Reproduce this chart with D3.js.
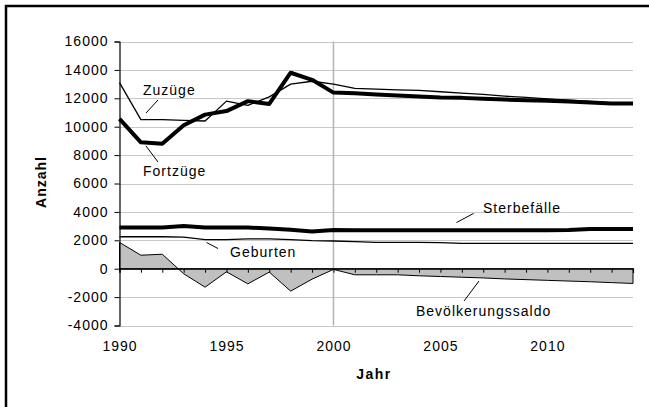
<!DOCTYPE html>
<html>
<head>
<meta charset="utf-8">
<script src="https://cdn.jsdelivr.net/npm/d3@7"></script>
<style>
  html, body { margin: 0; padding: 0; background: #fff; }
  svg { display: block; }
  text { font-family: "Liberation Sans", Arial, sans-serif; fill: #000; }
</style>
</head>
<body>
<svg id="chart" width="649" height="407"></svg>
<script>
const years = d3.range(1990, 2015);
const zuzuege = [13100, 10500, 10500, 10450, 10400, 11800, 11500, 12100, 13000, 13200, 13000, 12700, 12640, 12600, 12560, 12460, 12360, 12270, 12150, 12060, 11960, 11870, 11775, 11680, 11630];
const fortzuege = [10550, 8900, 8800, 10100, 10850, 11100, 11800, 11600, 13800, 13300, 12400, 12350, 12270, 12200, 12130, 12060, 12030, 11960, 11910, 11870, 11820, 11775, 11700, 11630, 11630];
const geburten = [2250, 2250, 2250, 2230, 2050, 2050, 2100, 2100, 2050, 1980, 1950, 1900, 1850, 1850, 1850, 1840, 1790, 1790, 1790, 1790, 1790, 1790, 1790, 1790, 1790];
const sterbefaelle = [2900, 2900, 2900, 3000, 2900, 2900, 2900, 2830, 2740, 2620, 2720, 2700, 2700, 2700, 2700, 2700, 2700, 2700, 2700, 2700, 2700, 2720, 2800, 2800, 2800];
const saldo = [1850, 950, 1020, -360, -1300, -220, -1065, -240, -1580, -735, -50, -430, -430, -430, -500, -550, -600, -650, -720, -770, -820, -870, -920, -980, -1040];
const yTicks = [-4000, -2000, 0, 2000, 4000, 6000, 8000, 10000, 12000, 14000, 16000];
const xLabelYears = [1990, 1995, 2000, 2005, 2010];
const markerYear = 2000;

const svg = d3.select("#chart");
const x = d3.scaleLinear().domain([1990, 2014]).range([119.5, 633]);
const y = d3.scaleLinear().domain([-4000, 16000]).range([325.5, 41.5]);
const fmt = d => String(d);

// outer frame
svg.append("rect").attr("x", 6).attr("y", 6).attr("width", 700).attr("height", 500)
  .attr("fill", "none").attr("stroke", "#000").attr("stroke-width", 2.5);

// gridlines
svg.append("g").selectAll("line").data(yTicks).join("line")
  .attr("x1", x(1990)).attr("x2", x(2014))
  .attr("y1", d => Math.round(y(d)) + 0.5).attr("y2", d => Math.round(y(d)) + 0.5)
  .attr("stroke", "#c8c8c8").attr("stroke-width", 1);

// vertical marker at 2000
svg.append("line").attr("x1", x(markerYear)).attr("x2", x(markerYear))
  .attr("y1", y(16000)).attr("y2", y(-4000))
  .attr("stroke", "#b4b4b4").attr("stroke-width", 1.5);

// saldo area
const area = d3.area().x((d, i) => x(years[i])).y0(y(0)).y1(d => y(d));
svg.append("path").datum(saldo).attr("d", area)
  .attr("fill", "#c0c0c0").attr("stroke", "#000").attr("stroke-width", 1);

// zero axis with year ticks
const zeroAxis = svg.append("g").attr("transform", `translate(0,${y(0)})`)
  .call(d3.axisBottom(x).tickValues(years).tickSize(4).tickFormat(""));
zeroAxis.select(".domain").attr("stroke", "#000").attr("stroke-width", 1.2);
zeroAxis.selectAll(".tick line").attr("stroke", "#000");

// y axis
const yAxis = svg.append("g").attr("transform", `translate(${x(1990)},0)`)
  .call(d3.axisLeft(y).tickValues(yTicks).tickSize(5).tickPadding(6).tickFormat(fmt));
yAxis.select(".domain").attr("stroke", "#000").attr("stroke-width", 1.2);
yAxis.selectAll(".tick line").attr("stroke", "#000");
yAxis.selectAll("text").style("font-size", "14px").style("letter-spacing", "1px")
  .style("font-family", "Liberation Sans, Arial, sans-serif").attr("fill", "#000");

// x labels at bottom
const xAxis = svg.append("g").attr("transform", `translate(0,${y(-4000)})`)
  .call(d3.axisBottom(x).tickValues(xLabelYears).tickSize(0).tickPadding(15.5).tickFormat(fmt));
xAxis.select(".domain").remove();
xAxis.selectAll("text").style("font-size", "14px").style("letter-spacing", "1px")
  .style("font-family", "Liberation Sans, Arial, sans-serif").attr("fill", "#000");

// lines
const line = d3.line().x((d, i) => x(years[i])).y(d => y(d));
function drawLine(data, w) {
  svg.append("path").datum(data).attr("d", line)
    .attr("fill", "none").attr("stroke", "#000").attr("stroke-width", w)
    .attr("stroke-linejoin", "round");
}
drawLine(geburten, 1.3);
drawLine(sterbefaelle, 4);
drawLine(zuzuege, 1.3);
drawLine(fortzuege, 4);

// annotations
const labels = [
  { t: "Zuzüge", x: 143, y: 95, l: [146, 113, 158, 100] },
  { t: "Fortzüge", x: 143, y: 176, l: [146, 146, 158, 162] },
  { t: "Geburten", x: 230, y: 257, l: [206.5, 242.5, 218, 248.5] },
  { t: "Sterbefälle", x: 483, y: 213, l: [456.5, 222.5, 473.5, 213.5] },
  { t: "Bevölkerungssaldo", x: 416, y: 316, l: [464, 301, 479, 281] }
];
labels.forEach(d => {
  svg.append("text").attr("x", d.x).attr("y", d.y).text(d.t)
    .style("font-size", "14px").style("letter-spacing", "1px");
  svg.append("line").attr("x1", d.l[0]).attr("y1", d.l[1]).attr("x2", d.l[2]).attr("y2", d.l[3])
    .attr("stroke", "#000").attr("stroke-width", 1);
});

// axis titles
svg.append("text").attr("x", 374).attr("y", 379).attr("text-anchor", "middle")
  .style("font-size", "14px").style("font-weight", "bold").style("letter-spacing", "1.5px").text("Jahr");
svg.append("text").attr("transform", "translate(46,182) rotate(-90)").attr("text-anchor", "middle")
  .style("font-size", "14px").style("font-weight", "bold").style("letter-spacing", "1px").text("Anzahl");
</script>
</body>
</html>
